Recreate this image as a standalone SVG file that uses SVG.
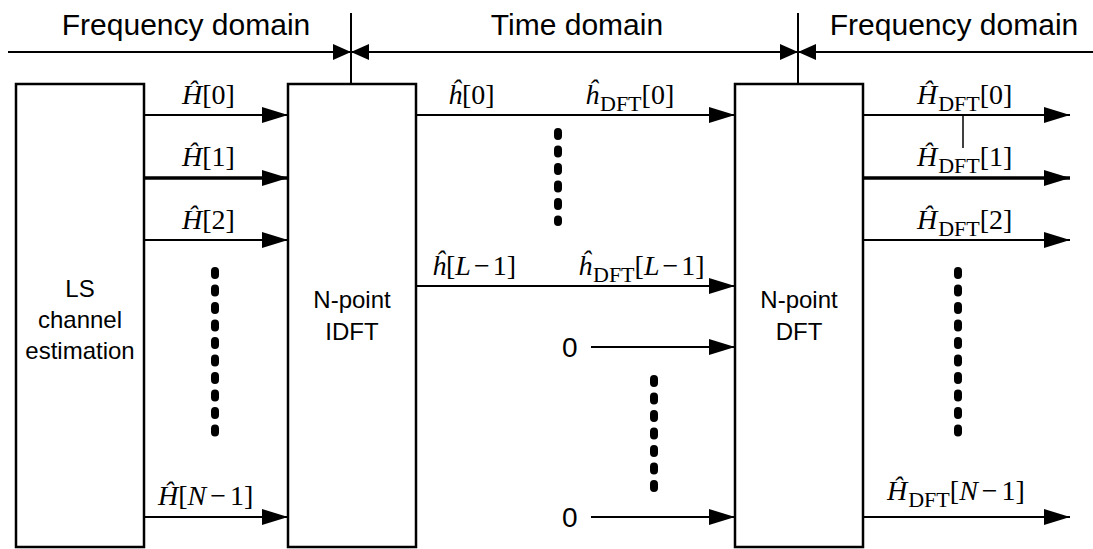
<svg xmlns="http://www.w3.org/2000/svg" width="1093" height="549" viewBox="0 0 1093 549">
<style>
.ln{stroke:#000;stroke-width:2;fill:none}
.thick{stroke:#000;stroke-width:3.5;fill:none}
.box{stroke:#000;stroke-width:2.5;fill:#fff}
.hdr{font-family:"Liberation Sans",Arial,sans-serif;font-size:30px;fill:#000}
.btxt{font-family:"Liberation Sans",Arial,sans-serif;font-size:24px;fill:#000;text-anchor:middle}
.zero{font-family:"Liberation Sans",Arial,sans-serif;font-size:28px;fill:#000}
.m{font-family:"Liberation Serif","Times New Roman",serif;font-size:28px;fill:#000}
.i{font-style:italic}
.sub{font-size:22px}
.dots{stroke:#000;stroke-width:8;stroke-linecap:round;stroke-dasharray:4 13.5;fill:none}
</style>
<defs>
<marker id="ah" markerUnits="userSpaceOnUse" markerWidth="26" markerHeight="16" refX="26" refY="8" orient="auto">
<path d="M0,0 L26,8 L0,16 Z" fill="#000"/>
</marker>
<marker id="hh" markerUnits="userSpaceOnUse" markerWidth="18" markerHeight="16" refX="18" refY="8" orient="auto-start-reverse">
<path d="M0,0 L18,8 L0,16 Z" fill="#000"/>
</marker>
</defs>

<g id="header">
<line class="ln" x1="8" y1="52" x2="351" y2="52" marker-end="url(#hh)"/>
<line class="ln" x1="351" y1="52" x2="798" y2="52" marker-start="url(#hh)" marker-end="url(#hh)"/>
<line class="ln" x1="1093" y1="52" x2="798" y2="52" marker-end="url(#hh)"/>
<line class="ln" x1="351" y1="13" x2="351" y2="84"/>
<line class="ln" x1="798" y1="13" x2="798" y2="84"/>
<text class="hdr" x="186" y="35" text-anchor="middle">Frequency domain</text>
<text class="hdr" x="577" y="35" text-anchor="middle">Time domain</text>
<text class="hdr" x="954" y="35" text-anchor="middle">Frequency domain</text>
</g>

<g id="ls">
<rect class="box" x="16" y="84" width="128" height="463"/>
<text class="btxt" x="80" y="297">LS</text>
<text class="btxt" x="80" y="328">channel</text>
<text class="btxt" x="80" y="359">estimation</text>
</g>

<g id="idft">
<rect class="box" x="288" y="84" width="128" height="463"/>
<text class="btxt" x="352" y="308">N-point</text>
<text class="btxt" x="352" y="340">IDFT</text>
</g>

<g id="dft">
<rect class="box" x="735" y="84" width="128" height="463"/>
<text class="btxt" x="799" y="308">N-point</text>
<text class="btxt" x="799" y="340">DFT</text>
</g>

<g id="connectors">
<line class="ln" x1="144" y1="115" x2="288" y2="115" marker-end="url(#ah)"/>
<line class="thick" x1="144" y1="178" x2="288" y2="178" marker-end="url(#ah)"/>
<line class="ln" x1="144" y1="240" x2="288" y2="240" marker-end="url(#ah)"/>
<line class="ln" x1="144" y1="517" x2="288" y2="517" marker-end="url(#ah)"/>
<line class="ln" x1="416" y1="115" x2="735" y2="115" marker-end="url(#ah)"/>
<line class="ln" x1="416" y1="286" x2="735" y2="286" marker-end="url(#ah)"/>
<line class="ln" x1="591" y1="347" x2="735" y2="347" marker-end="url(#ah)"/>
<line class="ln" x1="591" y1="517" x2="735" y2="517" marker-end="url(#ah)"/>
<line class="ln" x1="863" y1="115" x2="1070" y2="115" marker-end="url(#ah)"/>
<line class="thick" x1="863" y1="178" x2="1070" y2="178" marker-end="url(#ah)"/>
<line class="ln" x1="863" y1="240" x2="1070" y2="240" marker-end="url(#ah)"/>
<line class="ln" x1="863" y1="517" x2="1070" y2="517" marker-end="url(#ah)"/>
<line stroke="#000" stroke-width="1.5" x1="963" y1="115" x2="963" y2="148"/>
</g>

<g id="dotted">
<line class="dots" x1="215" y1="271" x2="215" y2="433"/>
<line class="dots" x1="958" y1="271" x2="958" y2="433"/>
<line class="dots" x1="558" y1="132" x2="558" y2="222"/>
<line class="dots" x1="654" y1="379" x2="654" y2="489"/>
</g>

<g id="labels">
<text class="m" x="182" y="104"><tspan class="i">Ĥ</tspan>[0]</text>
<text class="m" x="182" y="166"><tspan class="i">Ĥ</tspan>[1]</text>
<text class="m" x="182" y="229"><tspan class="i">Ĥ</tspan>[2]</text>
<text class="m" x="158" y="505"><tspan class="i">Ĥ</tspan>[<tspan class="i">N</tspan><tspan dx="4">−</tspan><tspan dx="4">1]</tspan></text>

<text class="m" x="448" y="104"><tspan class="i">ĥ</tspan>[0]</text>
<text class="m" x="585" y="104"><tspan class="i">ĥ</tspan><tspan class="sub" dx="1" dy="7">DFT</tspan><tspan dy="-7">[0]</tspan></text>
<text class="m" x="432" y="275"><tspan class="i">ĥ</tspan>[<tspan class="i">L</tspan><tspan dx="3">−</tspan><tspan dx="3">1]</tspan></text>
<text class="m" x="578" y="275"><tspan class="i">ĥ</tspan><tspan class="sub" dx="1" dy="7">DFT</tspan><tspan dy="-7">[<tspan class="i">L</tspan><tspan dx="3">−</tspan><tspan dx="3">1]</tspan></tspan></text>

<text class="zero" x="562" y="357">0</text>
<text class="zero" x="562" y="527">0</text>

<text class="m" x="917" y="104"><tspan class="i">Ĥ</tspan><tspan class="sub" dx="1" dy="7">DFT</tspan><tspan dy="-7">[0]</tspan></text>
<text class="m" x="917" y="166"><tspan class="i">Ĥ</tspan><tspan class="sub" dx="1" dy="7">DFT</tspan><tspan dy="-7">[1]</tspan></text>
<text class="m" x="917" y="229"><tspan class="i">Ĥ</tspan><tspan class="sub" dx="1" dy="7">DFT</tspan><tspan dy="-7">[2]</tspan></text>
<text class="m" x="887" y="500"><tspan class="i">Ĥ</tspan><tspan class="sub" dx="1" dy="7">DFT</tspan><tspan dy="-7">[<tspan class="i">N</tspan><tspan dx="4">−</tspan><tspan dx="4">1]</tspan></tspan></text>
</g>
</svg>
